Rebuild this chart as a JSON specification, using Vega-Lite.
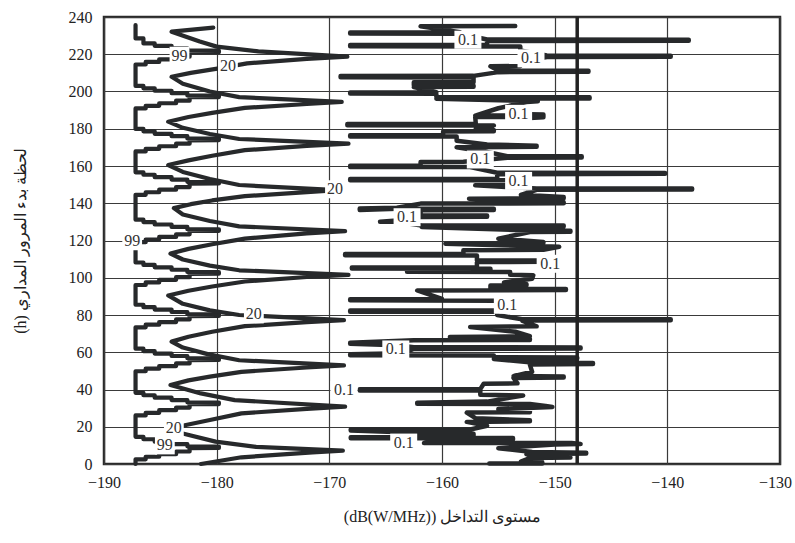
{
  "$schema": "https://vega.github.io/schema/vega-lite/v6.json",
  "width": 676,
  "height": 447,
  "autosize": {"type": "none"},
  "padding": {"left": 104, "top": 17, "right": 15, "bottom": 79},
  "background": "white",
  "config": {
    "view": {"stroke": "#2a2a2a", "strokeWidth": 2.5},
    "axis": {
      "grid": true, "gridColor": "#3a3a3a", "gridWidth": 1.2, "ticks": false, "domain": false, "labelFlush": false,
      "labelFont": "Liberation Serif, serif", "labelFontSize": 16, "labelColor": "#222",
      "titleFont": "Liberation Serif, serif", "titleFontSize": 16, "titleFontWeight": "normal", "titleColor": "#222"
    }
  },
  "datasets": {
    "c99": [
      {"x":-187.2,"h":0},{"x":-187.2,"h":2.5},{"x":-186.3,"h":2.5},{"x":-186.3,"h":3.9},{"x":-185.1,"h":3.9},{"x":-185.1,"h":5.3},{"x":-183.6,"h":5.3},{"x":-183.6,"h":6.7},{"x":-182.4,"h":6.7},{"x":-182.4,"h":8.5},{"x":-179.8,"h":8.6},{"x":-179.8,"h":9.4},{"x":-182.6,"h":9.5},{"x":-182.6,"h":10.7},{"x":-184.0,"h":10.7},{"x":-184.0,"h":12.0},{"x":-185.5,"h":12.0},{"x":-185.5,"h":13.3},{"x":-186.5,"h":13.3},{"x":-186.5,"h":14.6},{"x":-187.2,"h":14.6},
      {"x":-187.2,"h":26.1},{"x":-186.3,"h":26.1},{"x":-186.3,"h":27.5},{"x":-185.1,"h":27.5},{"x":-185.1,"h":28.9},{"x":-183.6,"h":28.9},{"x":-183.6,"h":30.3},{"x":-182.4,"h":30.3},{"x":-182.4,"h":32.1},{"x":-179.8,"h":32.2},{"x":-179.8,"h":33.0},{"x":-182.6,"h":33.1},{"x":-182.6,"h":34.3},{"x":-184.0,"h":34.3},{"x":-184.0,"h":35.6},{"x":-185.5,"h":35.6},{"x":-185.5,"h":36.9},{"x":-186.5,"h":36.9},{"x":-186.5,"h":38.2},{"x":-187.2,"h":38.2},
      {"x":-187.2,"h":49.8},{"x":-186.3,"h":49.8},{"x":-186.3,"h":51.2},{"x":-185.1,"h":51.2},{"x":-185.1,"h":52.6},{"x":-183.6,"h":52.6},{"x":-183.6,"h":54.0},{"x":-182.4,"h":54.0},{"x":-182.4,"h":55.8},{"x":-179.8,"h":55.9},{"x":-179.8,"h":56.7},{"x":-182.6,"h":56.8},{"x":-182.6,"h":58.0},{"x":-184.0,"h":58.0},{"x":-184.0,"h":59.3},{"x":-185.5,"h":59.3},{"x":-185.5,"h":60.6},{"x":-186.5,"h":60.6},{"x":-186.5,"h":61.9},{"x":-187.2,"h":61.9},
      {"x":-187.2,"h":73.4},{"x":-186.3,"h":73.4},{"x":-186.3,"h":74.8},{"x":-185.1,"h":74.8},{"x":-185.1,"h":76.2},{"x":-183.6,"h":76.2},{"x":-183.6,"h":77.6},{"x":-182.4,"h":77.6},{"x":-182.4,"h":79.4},{"x":-179.8,"h":79.5},{"x":-179.8,"h":80.3},{"x":-182.6,"h":80.4},{"x":-182.6,"h":81.6},{"x":-184.0,"h":81.6},{"x":-184.0,"h":82.9},{"x":-185.5,"h":82.9},{"x":-185.5,"h":84.2},{"x":-186.5,"h":84.2},{"x":-186.5,"h":85.5},{"x":-187.2,"h":85.5},
      {"x":-187.2,"h":96.1},{"x":-186.3,"h":96.1},{"x":-186.3,"h":97.5},{"x":-185.1,"h":97.5},{"x":-185.1,"h":98.9},{"x":-183.6,"h":98.9},{"x":-183.6,"h":100.3},{"x":-182.4,"h":100.3},{"x":-182.4,"h":102.1},{"x":-179.8,"h":102.2},{"x":-179.8,"h":103.0},{"x":-182.6,"h":103.1},{"x":-182.6,"h":104.3},{"x":-184.0,"h":104.3},{"x":-184.0,"h":105.6},{"x":-185.5,"h":105.6},{"x":-185.5,"h":106.9},{"x":-186.5,"h":106.9},{"x":-186.5,"h":108.2},{"x":-187.2,"h":108.2},
      {"x":-187.2,"h":119.1},{"x":-186.3,"h":119.1},{"x":-186.3,"h":120.5},{"x":-185.1,"h":120.5},{"x":-185.1,"h":121.9},{"x":-183.6,"h":121.9},{"x":-183.6,"h":123.3},{"x":-182.4,"h":123.3},{"x":-182.4,"h":125.1},{"x":-179.8,"h":125.2},{"x":-179.8,"h":126.0},{"x":-182.6,"h":126.1},{"x":-182.6,"h":127.3},{"x":-184.0,"h":127.3},{"x":-184.0,"h":128.6},{"x":-185.5,"h":128.6},{"x":-185.5,"h":129.9},{"x":-186.5,"h":129.9},{"x":-186.5,"h":131.2},{"x":-187.2,"h":131.2},
      {"x":-187.2,"h":144.5},{"x":-186.3,"h":144.5},{"x":-186.3,"h":145.9},{"x":-185.1,"h":145.9},{"x":-185.1,"h":147.3},{"x":-183.6,"h":147.3},{"x":-183.6,"h":148.7},{"x":-182.4,"h":148.7},{"x":-182.4,"h":150.5},{"x":-179.8,"h":150.6},{"x":-179.8,"h":151.4},{"x":-182.6,"h":151.5},{"x":-182.6,"h":152.7},{"x":-184.0,"h":152.7},{"x":-184.0,"h":154.0},{"x":-185.5,"h":154.0},{"x":-185.5,"h":155.3},{"x":-186.5,"h":155.3},{"x":-186.5,"h":156.6},{"x":-187.2,"h":156.6},
      {"x":-187.2,"h":167.8},{"x":-186.3,"h":167.8},{"x":-186.3,"h":169.2},{"x":-185.1,"h":169.2},{"x":-185.1,"h":170.6},{"x":-183.6,"h":170.6},{"x":-183.6,"h":172.0},{"x":-182.4,"h":172.0},{"x":-182.4,"h":173.8},{"x":-179.8,"h":173.9},{"x":-179.8,"h":174.7},{"x":-182.6,"h":174.8},{"x":-182.6,"h":176.0},{"x":-184.0,"h":176.0},{"x":-184.0,"h":177.3},{"x":-185.5,"h":177.3},{"x":-185.5,"h":178.6},{"x":-186.5,"h":178.6},{"x":-186.5,"h":179.9},{"x":-187.2,"h":179.9},
      {"x":-187.2,"h":190.9},{"x":-186.3,"h":190.9},{"x":-186.3,"h":192.3},{"x":-185.1,"h":192.3},{"x":-185.1,"h":193.7},{"x":-183.6,"h":193.7},{"x":-183.6,"h":195.1},{"x":-182.4,"h":195.1},{"x":-182.4,"h":196.9},{"x":-179.8,"h":197.0},{"x":-179.8,"h":197.8},{"x":-182.6,"h":197.9},{"x":-182.6,"h":199.1},{"x":-184.0,"h":199.1},{"x":-184.0,"h":200.4},{"x":-185.5,"h":200.4},{"x":-185.5,"h":201.7},{"x":-186.5,"h":201.7},{"x":-186.5,"h":203.0},{"x":-187.2,"h":203.0},
      {"x":-187.2,"h":214.5},{"x":-186.3,"h":214.5},{"x":-186.3,"h":215.9},{"x":-185.1,"h":215.9},{"x":-185.1,"h":217.3},{"x":-183.6,"h":217.3},{"x":-183.6,"h":218.7},{"x":-182.4,"h":218.7},{"x":-182.4,"h":221.0},{"x":-179.8,"h":221.1},{"x":-179.8,"h":221.9},{"x":-182.6,"h":222.0},{"x":-182.6,"h":223.2},{"x":-184.0,"h":223.2},{"x":-184.0,"h":224.5},{"x":-185.5,"h":224.5},{"x":-185.5,"h":225.8},{"x":-186.5,"h":225.8},{"x":-186.5,"h":228.5},{"x":-187.2,"h":228.5},{"x":-187.2,"h":235.7}
    ],
    "c20": [
      {"x":-181.4,"h":0},{"x":-177.8,"h":3.6},{"x":-171.5,"h":6.2},{"x":-168.8,"h":7.2},
      {"x":-176.5,"h":9.2},{"x":-180.1,"h":12.0},{"x":-183.1,"h":16.5},{"x":-184.1,"h":19.2},
      {"x":-182.3,"h":21.5},{"x":-180.6,"h":23.6},{"x":-177.8,"h":27.2},{"x":-172.0,"h":29.6},{"x":-168.6,"h":30.8},
      {"x":-178.4,"h":34.3},{"x":-181.4,"h":37.9},{"x":-184.1,"h":42.4},
      {"x":-182.5,"h":44.9},{"x":-180.6,"h":46.9},{"x":-177.8,"h":49.5},{"x":-172.0,"h":51.8},{"x":-168.7,"h":53.0},
      {"x":-178.0,"h":55.7},{"x":-180.8,"h":59.0},{"x":-183.0,"h":62.5},{"x":-184.0,"h":65.7},
      {"x":-182.5,"h":68.3},{"x":-180.4,"h":71.0},{"x":-177.5,"h":74.0},{"x":-172.0,"h":76.2},{"x":-168.7,"h":77.3},
      {"x":-178.0,"h":80.0},{"x":-180.6,"h":82.5},{"x":-183.0,"h":86.0},{"x":-184.3,"h":90.5},
      {"x":-182.5,"h":93.0},{"x":-180.4,"h":95.3},{"x":-177.5,"h":98.0},{"x":-172.0,"h":100.4},{"x":-168.3,"h":101.5},
      {"x":-178.0,"h":104.0},{"x":-180.6,"h":106.5},{"x":-183.0,"h":109.8},{"x":-184.1,"h":113.0},
      {"x":-182.5,"h":115.5},{"x":-180.4,"h":118.0},{"x":-177.5,"h":121.0},{"x":-172.0,"h":123.8},{"x":-168.6,"h":125.0},
      {"x":-178.0,"h":127.6},{"x":-180.6,"h":130.5},{"x":-183.0,"h":134.0},{"x":-183.8,"h":137.4},
      {"x":-182.3,"h":139.5},{"x":-180.4,"h":141.5},{"x":-177.5,"h":143.8},{"x":-172.0,"h":146.0},{"x":-169.3,"h":147.0},
      {"x":-178.0,"h":149.8},{"x":-180.6,"h":153.0},{"x":-183.0,"h":156.8},{"x":-184.3,"h":160.5},
      {"x":-182.5,"h":163.0},{"x":-180.4,"h":165.5},{"x":-177.5,"h":168.5},{"x":-172.0,"h":170.8},{"x":-168.3,"h":172.0},
      {"x":-178.0,"h":174.5},{"x":-180.6,"h":177.2},{"x":-183.0,"h":180.5},{"x":-184.3,"h":183.8},
      {"x":-182.5,"h":186.3},{"x":-180.4,"h":188.5},{"x":-177.5,"h":191.2},{"x":-172.0,"h":193.3},{"x":-168.9,"h":194.4},
      {"x":-178.0,"h":197.0},{"x":-180.6,"h":200.0},{"x":-183.0,"h":204.2},{"x":-184.0,"h":207.9},
      {"x":-182.3,"h":210.0},{"x":-179.8,"h":212.4},{"x":-177.3,"h":215.1},{"x":-172.0,"h":217.5},{"x":-168.4,"h":218.7},
      {"x":-176.3,"h":221.5},{"x":-180.0,"h":224.1},{"x":-181.5,"h":226.8},{"x":-184.0,"h":232.1},{"x":-180.3,"h":234.3}
    ],
    "c01": [
      {"x":-155.8,"h":0.3},{"x":-151.1,"h":0.3},{"x":-151.1,"h":0.9},{"x":-153.0,"h":1.3},{"x":-152.2,"h":3.2},{"x":-148.6,"h":3.5},{"x":-152.0,"h":4.0},{"x":-152.5,"h":5.3},{"x":-147.2,"h":5.6},{"x":-147.2,"h":6.1},{"x":-152.0,"h":6.4},{"x":-155.0,"h":8.5},{"x":-150.0,"h":10.5},{"x":-147.7,"h":10.8},{"x":-148.5,"h":11.3},{"x":-161.6,"h":11.3},{"x":-160.0,"h":12.3},{"x":-153.7,"h":13.2},{"x":-153.7,"h":13.9},{"x":-168.1,"h":13.8},{"x":-168.1,"h":14.4},{"x":-161.6,"h":15.3},{"x":-157.2,"h":15.6},{"x":-157.2,"h":16.2},{"x":-161.0,"h":16.5},{"x":-168.1,"h":18.0},{"x":-168.1,"h":18.6},{"x":-157.5,"h":18.5},{"x":-156.0,"h":20.5},{"x":-157.8,"h":22.6},{"x":-152.2,"h":22.9},{"x":-152.2,"h":23.5},{"x":-157.0,"h":24.5},{"x":-157.8,"h":27.6},{"x":-152.2,"h":27.8},{"x":-152.2,"h":28.4},{"x":-155.0,"h":29.5},{"x":-150.2,"h":30.6},{"x":-150.8,"h":31.2},{"x":-152.2,"h":32.2},{"x":-162.2,"h":32.3},{"x":-162.2,"h":32.9},{"x":-156.0,"h":33.5},{"x":-152.8,"h":36.8},{"x":-156.6,"h":37.2},{"x":-156.6,"h":39.4},{"x":-167.3,"h":39.5},{"x":-167.3,"h":40.1},{"x":-156.6,"h":40.2},{"x":-156.3,"h":43.1},{"x":-153.3,"h":43.3},{"x":-153.65,"h":46.2},{"x":-149.2,"h":46.4},{"x":-149.2,"h":47.0},{"x":-153.65,"h":47.2},{"x":-152.0,"h":49.5},
      {"x":-152.2,"h":53.4},{"x":-146.6,"h":53.7},{"x":-146.6,"h":54.2},{"x":-152.0,"h":54.5},{"x":-155.4,"h":56.4},{"x":-148.0,"h":56.7},{"x":-148.0,"h":57.2},{"x":-155.4,"h":57.4},{"x":-155.4,"h":58.3},{"x":-168.15,"h":58.4},{"x":-168.15,"h":58.9},{"x":-163.5,"h":59.5},{"x":-162.5,"h":61.8},{"x":-147.7,"h":62.0},{"x":-147.7,"h":62.6},{"x":-162.5,"h":62.7},{"x":-164.0,"h":63.8},{"x":-168.15,"h":64.6},{"x":-168.15,"h":65.1},{"x":-162.5,"h":66.4},{"x":-152.2,"h":66.6},{"x":-152.2,"h":67.2},{"x":-159.3,"h":68.2},{"x":-152.2,"h":68.6},{"x":-153.5,"h":71.0},{"x":-157.5,"h":73.6},{"x":-151.6,"h":73.9},{"x":-152.9,"h":77.0},{"x":-139.7,"h":77.2},{"x":-139.7,"h":77.7},{"x":-152.9,"h":77.7},{"x":-155.1,"h":80.0},{"x":-155.1,"h":81.7},{"x":-168.15,"h":81.8},{"x":-168.15,"h":82.4},{"x":-155.1,"h":82.4},{"x":-155.1,"h":87.7},{"x":-168.15,"h":87.9},{"x":-168.15,"h":88.5},{"x":-160.0,"h":88.6},{"x":-162.2,"h":93.2},{"x":-149.0,"h":93.4},{"x":-149.0,"h":94.0},{"x":-155.7,"h":94.2},{"x":-155.7,"h":95.8},{"x":-152.5,"h":96.0},{"x":-152.5,"h":96.6},{"x":-154.5,"h":97.5},{"x":-152.0,"h":99.5},{"x":-151.9,"h":101.3},{"x":-153.95,"h":101.6},{"x":-153.95,"h":103.1},{"x":-163.1,"h":103.2},{"x":-163.1,"h":103.8},{"x":-155.7,"h":104.0},{"x":-155.7,"h":104.8},{"x":-168.0,"h":104.9},{"x":-168.0,"h":105.5},{"x":-156.9,"h":105.7},{"x":-156.9,"h":108.4},{"x":-151.0,"h":108.6},{"x":-151.0,"h":109.2},{"x":-156.9,"h":109.3},{"x":-156.9,"h":112.0},{"x":-168.6,"h":112.1},{"x":-168.6,"h":112.7},{"x":-158.1,"h":112.8},{"x":-158.1,"h":114.8},{"x":-151.0,"h":115.0},{"x":-149.6,"h":116.6},{"x":-151.0,"h":116.9},{"x":-159.7,"h":118.3},{"x":-151.0,"h":118.6},{"x":-151.0,"h":119.2},{"x":-155.0,"h":121.0},{"x":-152.2,"h":124.5},{"x":-148.6,"h":124.7},{"x":-148.6,"h":125.2},{"x":-152.2,"h":125.4},{"x":-161.8,"h":127.3},{"x":-149.2,"h":127.5},{"x":-149.2,"h":128.1},{"x":-161.8,"h":128.1},{"x":-164.0,"h":130.0},{"x":-165.5,"h":130.1},{"x":-164.0,"h":130.7},{"x":-161.9,"h":132.6},{"x":-156.0,"h":132.8},{"x":-156.0,"h":133.4},{"x":-161.9,"h":133.4},{"x":-161.9,"h":136.2},{"x":-155.4,"h":136.4},{"x":-155.4,"h":137.0},{"x":-164.0,"h":137.0},{"x":-167.3,"h":136.4},{"x":-167.3,"h":137.2},{"x":-164.0,"h":137.6},
      {"x":-161.9,"h":139.8},{"x":-149.2,"h":140.0},{"x":-149.2,"h":140.6},{"x":-157.6,"h":142.4},{"x":-149.2,"h":142.7},{"x":-149.2,"h":143.3},{"x":-153.0,"h":144.5},{"x":-151.6,"h":147.2},{"x":-137.8,"h":147.4},{"x":-137.8,"h":147.9},{"x":-151.6,"h":147.9},{"x":-157.05,"h":149.6},{"x":-153.95,"h":149.8},{"x":-153.95,"h":150.4},{"x":-153.95,"h":152.3},{"x":-168.15,"h":152.4},{"x":-168.15,"h":153.0},{"x":-155.1,"h":153.1},{"x":-155.1,"h":155.6},{"x":-140.2,"h":155.8},{"x":-140.2,"h":156.3},{"x":-155.1,"h":156.4},{"x":-157.5,"h":159.4},{"x":-168.15,"h":159.5},{"x":-168.15,"h":160.1},{"x":-161.9,"h":160.2},{"x":-161.9,"h":162.1},{"x":-158.1,"h":162.3},{"x":-154.2,"h":164.4},{"x":-147.6,"h":164.6},{"x":-147.6,"h":165.2},{"x":-154.2,"h":165.3},{"x":-156.0,"h":167.5},{"x":-158.7,"h":170.1},{"x":-151.6,"h":170.3},{"x":-151.6,"h":170.9},{"x":-156.0,"h":171.5},{"x":-158.7,"h":173.5},{"x":-158.7,"h":175.8},{"x":-168.15,"h":175.9},{"x":-168.15,"h":176.5},{"x":-159.9,"h":176.6},{"x":-159.9,"h":178.5},{"x":-155.4,"h":178.7},{"x":-155.4,"h":179.3},{"x":-157.0,"h":180.0},{"x":-155.4,"h":181.8},{"x":-168.4,"h":181.9},{"x":-168.4,"h":182.5},{"x":-157.0,"h":182.6},{"x":-157.05,"h":186.3},{"x":-154.4,"h":186.5},{"x":-152.2,"h":185.8},{"x":-151.0,"h":186.2},{"x":-151.0,"h":187.6},{"x":-152.2,"h":187.8},{"x":-154.4,"h":187.1},{"x":-157.05,"h":187.1},{"x":-155.0,"h":191.0},{"x":-152.5,"h":194.3},{"x":-151.5,"h":194.7},{"x":-153.0,"h":195.0},{"x":-160.5,"h":196.1},{"x":-146.9,"h":196.3},{"x":-146.9,"h":196.9},{"x":-160.5,"h":197.0},{"x":-160.5,"h":198.8},{"x":-168.15,"h":198.9},{"x":-168.15,"h":199.5},{"x":-160.5,"h":199.6},{"x":-162.5,"h":202.4},{"x":-157.2,"h":202.6},{"x":-157.2,"h":203.2},{"x":-162.5,"h":203.3},{"x":-162.5,"h":204.9},{"x":-157.2,"h":205.0},{"x":-157.2,"h":207.5},{"x":-169.0,"h":207.7},{"x":-169.0,"h":208.3},{"x":-157.2,"h":208.4},{"x":-155.0,"h":210.4},{"x":-147.0,"h":210.6},{"x":-147.0,"h":211.2},{"x":-155.0,"h":211.3},{"x":-155.7,"h":213.5},{"x":-153.05,"h":213.7},{"x":-153.05,"h":214.3},{"x":-153.0,"h":216.0},{"x":-150.7,"h":218.5},{"x":-139.7,"h":218.7},{"x":-139.7,"h":219.2},{"x":-150.7,"h":219.3},{"x":-153.05,"h":222.0},{"x":-153.05,"h":224.2},{"x":-168.15,"h":224.3},{"x":-168.15,"h":224.9},{"x":-156.0,"h":225.0},{"x":-156.0,"h":227.1},{"x":-138.1,"h":227.3},{"x":-138.1,"h":227.8},{"x":-156.0,"h":227.9},{"x":-158.4,"h":231.0},{"x":-168.15,"h":231.1},{"x":-168.15,"h":231.7},{"x":-158.4,"h":231.8},{"x":-161.9,"h":235.0},{"x":-153.5,"h":235.2}
    ],
    "labels": [
      {"t":"99","x":-183.3,"h":219.2},{"t":"99","x":-187.5,"h":119.6},{"t":"99","x":-184.6,"h":10.0},
      {"t":"20","x":-179.0,"h":213.5},{"t":"20","x":-169.5,"h":147.5},{"t":"20","x":-176.7,"h":80.3},{"t":"20","x":-183.8,"h":19.3},
      {"t":"0.1","x":-157.7,"h":227.8},{"t":"0.1","x":-152.1,"h":217.8},{"t":"0.1","x":-153.2,"h":188.0},{"t":"0.1","x":-156.6,"h":163.5},{"t":"0.1","x":-153.2,"h":152.0},{"t":"0.1","x":-163.1,"h":132.5},{"t":"0.1","x":-150.4,"h":107.5},{"t":"0.1","x":-154.2,"h":85.5},{"t":"0.1","x":-164.1,"h":61.5},{"t":"0.1","x":-168.7,"h":39.7},{"t":"0.1","x":-163.4,"h":11.5}
    ]
  },
  "encoding": {
    "x": {"field": "x", "type": "quantitative",
      "scale": {"domain": [-190, -130], "nice": false, "zero": false},
      "axis": {"values": [-190,-180,-170,-160,-150,-140,-130], "labelPadding": 10, "titlePadding": 18,
        "labelOffset": {"condition": {"test": "datum.value === -130", "value": -5}, "value": 0},
        "title": "(dB(W/MHz)) مستوى التداخل"}},
    "y": {"field": "h", "type": "quantitative",
      "scale": {"domain": [0, 240], "nice": false, "zero": false},
      "axis": {"values": [0,20,40,60,80,100,120,140,160,180,200,220,240], "labelPadding": 12, "titlePadding": 40,
        "title": "(h) لحظة بدء المرور المداري"}}
  },
  "layer": [
    {"data": {"name": "c99"}, "mark": {"type": "line", "color": "#27292b", "strokeWidth": 4.2, "strokeJoin": "round", "strokeCap": "round"}, "encoding": {"order": {"value": null}}},
    {"data": {"name": "c20"}, "mark": {"type": "line", "color": "#27292b", "strokeWidth": 4.2, "strokeJoin": "round", "strokeCap": "round"}, "encoding": {"order": {"value": null}}},
    {"data": {"name": "c01"}, "mark": {"type": "line", "color": "#27292b", "strokeWidth": 4.5, "strokeJoin": "round", "strokeCap": "round"}, "encoding": {"order": {"value": null}}},
    {"data": {"values": [{"v": -148}]}, "mark": {"type": "rule", "color": "#222", "strokeWidth": 3.5},
      "encoding": {"x": {"field": "v", "type": "quantitative"}, "y": {"value": 0}, "y2": {"value": 447}}},
    {"data": {"name": "labels"}, "mark": {"type": "point", "filled": true, "color": "white", "opacity": 1, "strokeWidth": 0, "size": 324},
      "encoding": {"shape": {"field": "t", "type": "nominal", "legend": null,
        "scale": {"domain": ["0.1", "20", "99"], "range": ["M-1.5,-1H1.5V1H-1.5Z", "M-1.1,-1H1.1V1H-1.1Z", "M-1.1,-1H1.1V1H-1.1Z"]}}}},
    {"data": {"name": "labels"}, "mark": {"type": "text", "font": "Liberation Serif, serif", "fontSize": 16, "color": "#333", "baseline": "middle", "align": "center"},
      "encoding": {"text": {"field": "t"}}}
  ]
}
